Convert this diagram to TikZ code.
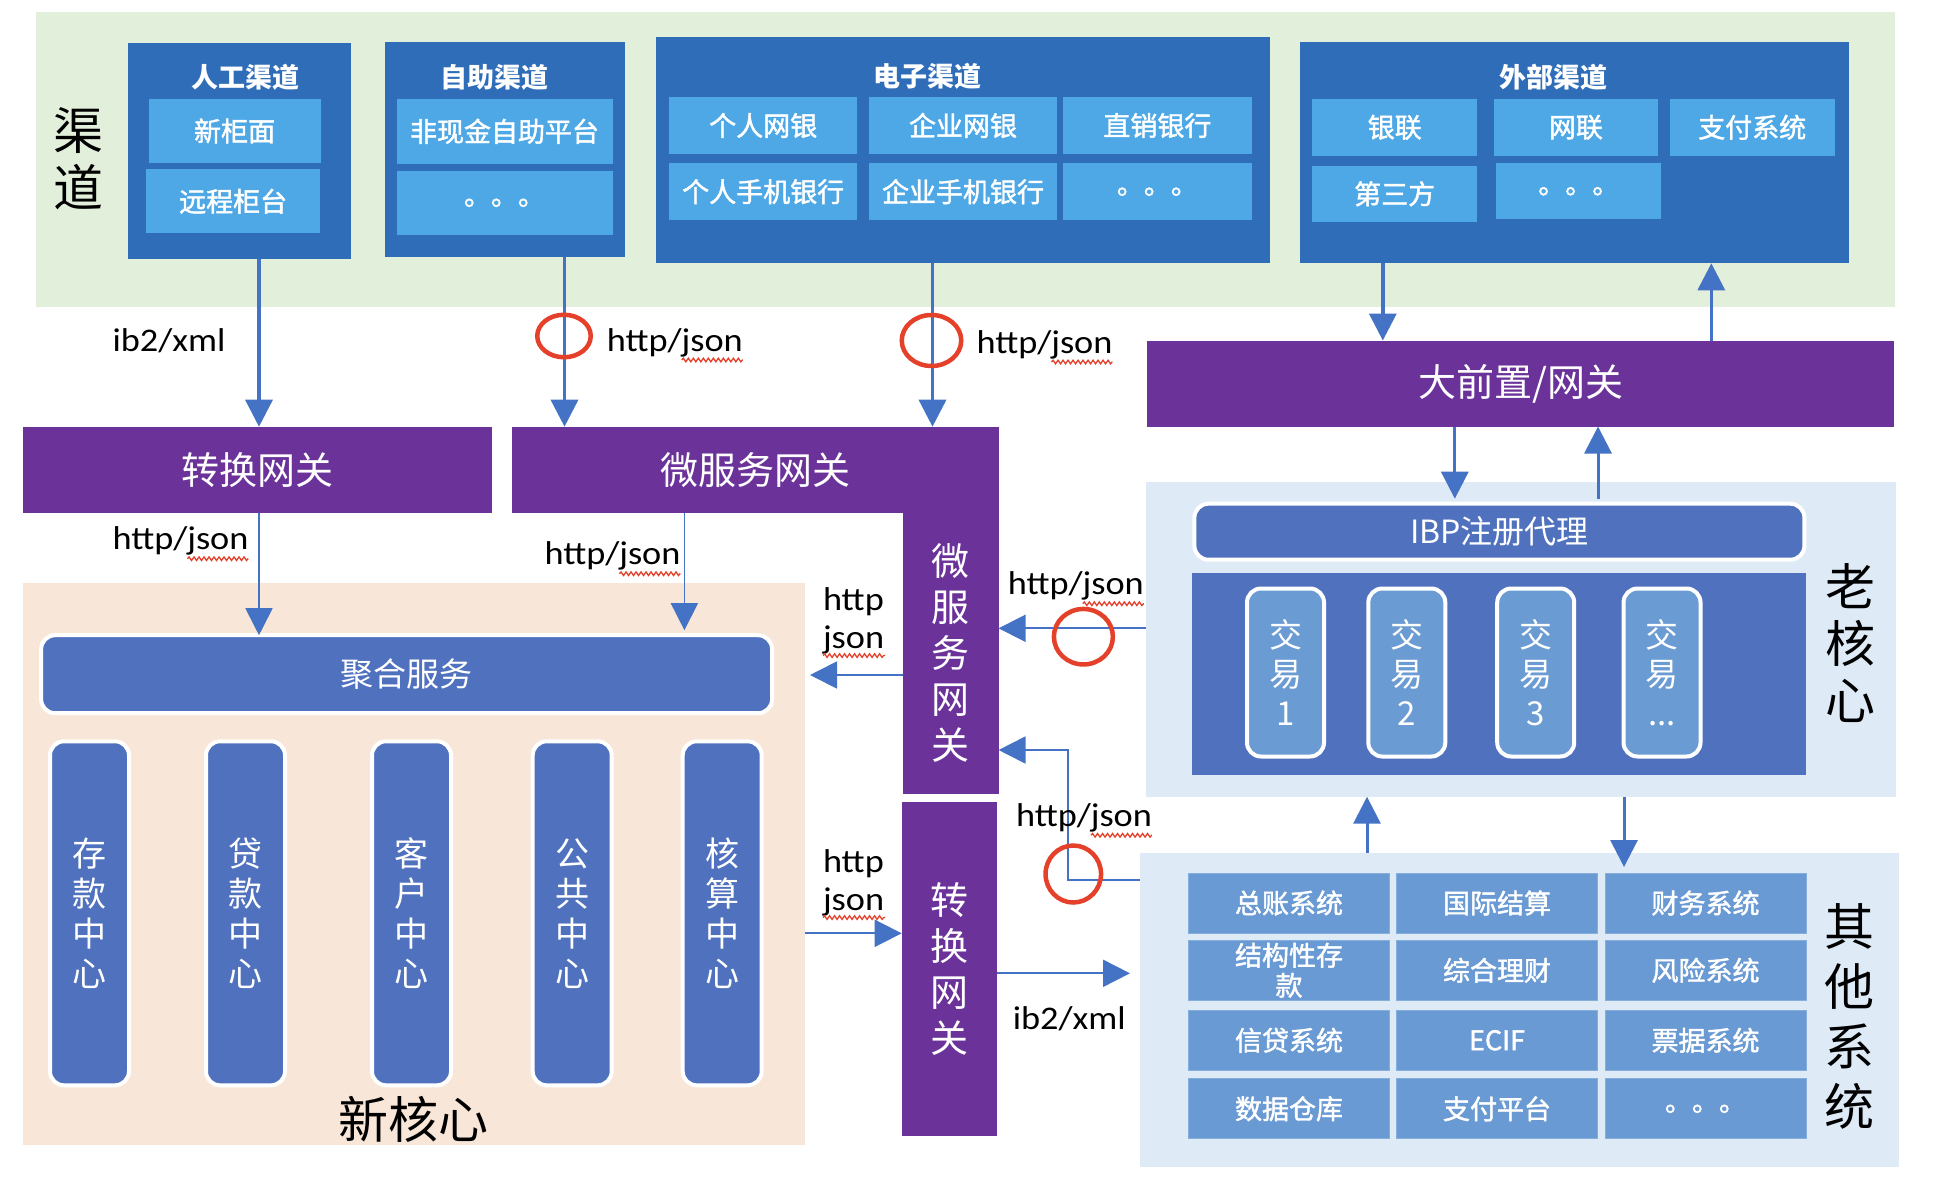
\documentclass[tikz,border=0pt]{standalone}
\usepackage{fontspec}
\setmainfont{Noto Sans CJK SC}
\newfontfamily\cjkmed[FakeBold=1.6]{Noto Sans CJK SC}
\newfontfamily\lblfont[FakeStretch=1.1]{Carlito}
\usetikzlibrary{arrows.meta,shapes.geometric,decorations.pathmorphing}
\definecolor{greenbg}{HTML}{E2EFDA}
\definecolor{chdark}{HTML}{2F6DB8}
\definecolor{chlight}{HTML}{4EA8E6}
\definecolor{gwp}{HTML}{6B3399}
\definecolor{peach}{HTML}{F8E6D8}
\definecolor{boxb}{HTML}{5072BE}
\definecolor{lightbg}{HTML}{DEEAF6}
\definecolor{jyc}{HTML}{6A9BD2}
\definecolor{cellc}{HTML}{6A9AD3}
\definecolor{cellb}{HTML}{86AEDD}
\definecolor{arrc}{HTML}{4472C4}
\definecolor{ringc}{HTML}{E5402A}
\newcommand\myfs[2]{\fontsize{#1}{#2}\selectfont}
\begin{document}
\begin{tikzpicture}[x=1pt,y=-1pt,
  zone/.style={inner sep=0pt, outer sep=0pt, draw=none},
  chbox/.style={fill=chdark, inner sep=0pt, outer sep=0pt},
  chcell/.style={fill=chlight, text=white, font=\cjkmed\myfs{27}{32}, inner sep=0pt, outer sep=0pt},
  chtitle/.style={text=white, font=\bfseries\myfs{27}{32}, inner sep=0pt},
  gw/.style={fill=gwp, text=white, font=\myfs{38}{46}, inner sep=0pt, outer sep=0pt, align=center},
  rbox/.style={fill=boxb, draw=white, line width=4pt, rounded corners=14pt, text=white, inner sep=0pt, outer sep=0pt, align=center},
  ctrbox/.style={rbox, minimum width=79pt, minimum height=344pt, font=\myfs{34}{40}},
  jybox/.style={rbox, fill=jyc, minimum width=77pt, minimum height=168pt, font=\myfs{33}{39}},
  syscell/.style={fill=cellc, draw=cellb, line width=1pt, text=white, font=\cjkmed\myfs{27}{30}, inner sep=0pt, outer sep=0pt, minimum width=201pt, minimum height=60pt, align=center},
  bigl/.style={font=\myfs{50}{57}, align=center, inner sep=0pt},
  arr/.style={draw=arrc, line width=3.5pt, -{Triangle[width=27pt,length=27pt]}},
  arrthin/.style={arr, line width=1.8pt},
  redring/.style={ellipse, draw=ringc, line width=4.5pt, inner sep=0pt, outer sep=0pt},
  lbl/.style={font=\lblfont\myfs{33}{38}, inner sep=0pt, outer sep=0pt},
  squig/.style={draw=ringc, line width=1.3pt, decorate, decoration={snake, amplitude=1.8pt, segment length=5pt}}
]
\useasboundingbox (0,0) rectangle (1940,1194);
\fill[white] (0,0) rectangle (1940,1194);

% ---------- channels ----------
\node[zone, fill=greenbg, minimum width=1859pt, minimum height=295pt] (chbg) at (965.5,159.4) {};
\node[bigl] (qdl) at (78,158.5) {渠\\道};

\node[chbox, minimum width=223.3pt, minimum height=215.7pt] (rg) at (239.7,151.2) {};
\node[chtitle] (rgt) at (245,77.5) {人工渠道};
\node[chcell, minimum width=171.8pt, minimum height=64.6pt] (rg1) at (234.6,131) {新柜面};
\node[chcell, minimum width=173.6pt, minimum height=64pt] (rg2) at (233.2,201.3) {远程柜台};

\node[chbox, minimum width=239.7pt, minimum height=215.6pt] (zz) at (505.2,149.5) {};
\node[chtitle] (zzt) at (494.4,77) {自助渠道};
\node[chcell, minimum width=216pt, minimum height=65.3pt] (zz1) at (504.5,131.3) {非现金自助平台};
\node[chcell, minimum width=216pt, minimum height=64.3pt] (zz2) at (504.5,202.8) {。。。};

\node[chbox, minimum width=613.9pt, minimum height=226pt] (dz) at (962.6,150.3) {};
\node[chtitle] (dzt) at (927.7,76.5) {电子渠道};
\node[chcell, minimum width=188.5pt, minimum height=57.6pt] (dz11) at (763.2,125.5) {个人网银};
\node[chcell, minimum width=188.5pt, minimum height=57.6pt] (dz12) at (963,125.5) {企业网银};
\node[chcell, minimum width=188.5pt, minimum height=57.6pt] (dz13) at (1157.4,125.5) {直销银行};
\node[chcell, minimum width=188.5pt, minimum height=56.7pt] (dz21) at (763.2,191.7) {个人手机银行};
\node[chcell, minimum width=188.5pt, minimum height=56.7pt] (dz22) at (963,191.7) {企业手机银行};
\node[chcell, minimum width=188.5pt, minimum height=56.7pt] (dz23) at (1157.4,191.7) {。。。};

\node[chbox, minimum width=549.2pt, minimum height=221.6pt] (wb) at (1574.4,152.5) {};
\node[chtitle] (wbt) at (1553.6,77) {外部渠道};
\node[chcell, minimum width=164.6pt, minimum height=57.3pt] (wb11) at (1394.7,127.3) {银联};
\node[chcell, minimum width=164.6pt, minimum height=57.3pt] (wb12) at (1575.9,127.3) {网联};
\node[chcell, minimum width=165pt, minimum height=57.3pt] (wb13) at (1752.2,127.3) {支付系统};
\node[chcell, minimum width=164.6pt, minimum height=56.3pt] (wb21) at (1394.7,193.8) {第三方};
\node[chcell, minimum width=165pt, minimum height=56pt] (wb22) at (1578.8,191.3) {。。。};

% ---------- gateways ----------
\node[gw, minimum width=469.7pt, minimum height=86.6pt] (zh) at (257.6,470) {转换网关};
\node[gw, minimum width=486.7pt, minimum height=86.6pt] (wf) at (755.4,470) {微服务网关};
\node[gw, minimum width=95.5pt, minimum height=281.6pt] (wfv) at (950.8,652.7) {微\\服\\务\\网\\关};
\node[gw, minimum width=95pt, minimum height=334.3pt] (zhv) at (949.2,968.8) {转\\换\\网\\关};
\node[gw, minimum width=747.7pt, minimum height=86pt] (dqz) at (1520.6,383.5) {大前置/网关};

% ---------- new core ----------
\node[zone, fill=peach, minimum width=782.2pt, minimum height=561.7pt] (nbg) at (413.9,864.2) {};
\node[rbox, minimum width=731pt, minimum height=78pt, font=\myfs{33}{40}] (jh) at (406.6,674.2) {聚合服务};
\node[ctrbox] (c1) at (89.5,913.3) {存\\款\\中\\心};
\node[ctrbox] (c2) at (245.5,913.3) {贷\\款\\中\\心};
\node[ctrbox] (c3) at (411.5,913.3) {客\\户\\中\\心};
\node[ctrbox] (c4) at (572.2,913.3) {公\\共\\中\\心};
\node[ctrbox] (c5) at (722.2,913.3) {核\\算\\中\\心};
\node[bigl] (nl) at (413,1119) {新核心};

% ---------- old core ----------
\node[zone, fill=lightbg, minimum width=749.8pt, minimum height=315pt] (obg) at (1520.6,639.2) {};
\node[zone, fill=boxb, minimum width=614pt, minimum height=201.7pt] (oin) at (1499.4,674.2) {};
\node[rbox, minimum width=610pt, minimum height=56pt, font=\myfs{32}{38}] (ibp) at (1499.4,531.7) {IBP注册代理};
\node[jybox] (jy1) at (1285.5,672.5) {交\\易\\1};
\node[jybox] (jy2) at (1406.8,672.5) {交\\易\\2};
\node[jybox] (jy3) at (1535.7,672.5) {交\\易\\3};
\node[jybox] (jy4) at (1662,672.5) {交\\易\\...};
\node[bigl] (ol) at (1850,643.3) {老\\核\\心};

% ---------- other systems ----------
\node[zone, fill=lightbg, minimum width=758.9pt, minimum height=313.4pt] (tbg) at (1519.5,1010) {};
\node[syscell] (s11) at (1289,903) {总账系统};
\node[syscell] (s12) at (1497,903) {国际结算};
\node[syscell] (s13) at (1705.5,903) {财务系统};
\node[syscell] (s21) at (1289,970.3) {结构性存\\款};
\node[syscell] (s22) at (1497,970.3) {综合理财};
\node[syscell] (s23) at (1705.5,970.3) {风险系统};
\node[syscell] (s31) at (1289,1040.3) {信贷系统};
\node[syscell] (s32) at (1497,1040.3) {ECIF};
\node[syscell] (s33) at (1705.5,1040.3) {票据系统};
\node[syscell] (s41) at (1289,1108.8) {数据仓库};
\node[syscell] (s42) at (1497,1108.8) {支付平台};
\node[syscell] (s43) at (1705.5,1108.8) {。。。};
\node[bigl, font=\myfs{50}{60}] (tl) at (1849,1016.5) {其\\他\\系\\统};

% ---------- helper coordinates ----------
\coordinate (xA1) at (259,0);
\coordinate (xA2) at (564.5,0);
\coordinate (xA3) at (932.5,0);
\coordinate (xA4) at (1382.8,0);
\coordinate (xA5) at (1711.3,0);
\coordinate (xB1) at (1454.8,0);
\coordinate (xB2) at (1598,0);
\coordinate (xC1) at (1367,0);
\coordinate (xC2) at (1624,0);
\coordinate (xH) at (684.4,0);
\coordinate (xD) at (1068.3,0);
\coordinate (yD1) at (0,628.3);
\coordinate (yD2) at (0,880);
\coordinate (yD3) at (0,750);
\coordinate (yE) at (0,675);
\coordinate (yF) at (0,933.3);
\coordinate (yG) at (0,973.3);
\coordinate (tipE) at (810,675);
\coordinate (tipG) at (1130,973.3);
\coordinate (ibptop) at ([yshift=5pt]ibp.north);
\coordinate (jhtop) at ([yshift=5pt]jh.north);
\coordinate (ctop) at ([yshift=6pt]s11.north);

% ---------- connectors ----------
\draw[arr] (rg.south -| xA1) -- (zh.north -| xA1);
\draw[arr] (zz.south -| xA2) -- (wf.north -| xA2);
\draw[arr] (dz.south -| xA3) -- (wf.north -| xA3);
\draw[arr] (wb.south -| xA4) -- (dqz.north -| xA4);
\draw[arr] (dqz.north -| xA5) -- (wb.south -| xA5);
\draw[arr, line width=3pt] (dqz.south -| xB1) -- (ibptop -| xB1);
\draw[arr, line width=3pt] (ibptop -| xB2) -- (dqz.south -| xB2);
\draw[arr, line width=3pt] (tbg.north -| xC1) -- (obg.south -| xC1);
\draw[arr, line width=3pt] (obg.south -| xC2) -- (ctop -| xC2);
\draw[arrthin] (zh.south -| xA1) -- (jh.north -| xA1);
\draw[arrthin] (wf.south -| xH) -- (jhtop -| xH);
\draw[arrthin] (wfv.west |- yE) -- (tipE);
\draw[arrthin] (obg.west |- yD1) -- (wfv.east |- yD1);
\draw[arrthin] (tbg.west |- yD2) -| (xD |- yD3) -- (wfv.east |- yD3);
\draw[arrthin] (nbg.east |- yF) -- (zhv.west |- yF);
\draw[arrthin] (zhv.east |- yG) -- (tipG);

% ---------- red rings ----------
\node[redring, minimum width=53.5pt, minimum height=42.5pt] (r1) at (564,336) {};
\node[redring, minimum width=59.5pt, minimum height=51pt] (r2) at (931.5,340.5) {};
\node[redring, minimum width=59pt, minimum height=55.5pt] (r3) at (1083.4,636.7) {};
\node[redring, minimum width=55.5pt, minimum height=57pt] (r4) at (1073.3,874) {};

% ---------- labels ----------
\node[lbl, anchor=base] (l1) at (169,351) {ib2/xml};
\node[lbl, anchor=base] (l2) at (674.8,351) {http/json};
\node[lbl, anchor=base] (l3) at (1044.5,353) {http/json};
\node[lbl, anchor=base] (l4) at (180.5,549.7) {http/json};
\node[lbl, anchor=base] (l5) at (612.5,564.7) {http/json};
\node[lbl, anchor=north west, align=left] (l6) at (823,588) {http\\json};
\node[lbl, anchor=base] (l7) at (1075.8,594.7) {http/json};
\node[lbl, anchor=base] (l8) at (1084,826.3) {http/json};
\node[lbl, anchor=north west, align=left] (l9) at (823,850) {http\\json};
\node[lbl, anchor=base] (l10) at (1069.3,1029.7) {ib2/xml};

\foreach \n in {l2,l3,l4,l5,l7,l8}{
  \draw[squig] ([shift={(-61pt,-9pt)}]\n.base east) -- ([yshift=-9pt]\n.base east);
}
\foreach \n in {l6,l9}{
  \draw[squig] ([yshift=-1pt]\n.south west) -- ++(62pt,0pt);
}
\end{tikzpicture}
\end{document}
